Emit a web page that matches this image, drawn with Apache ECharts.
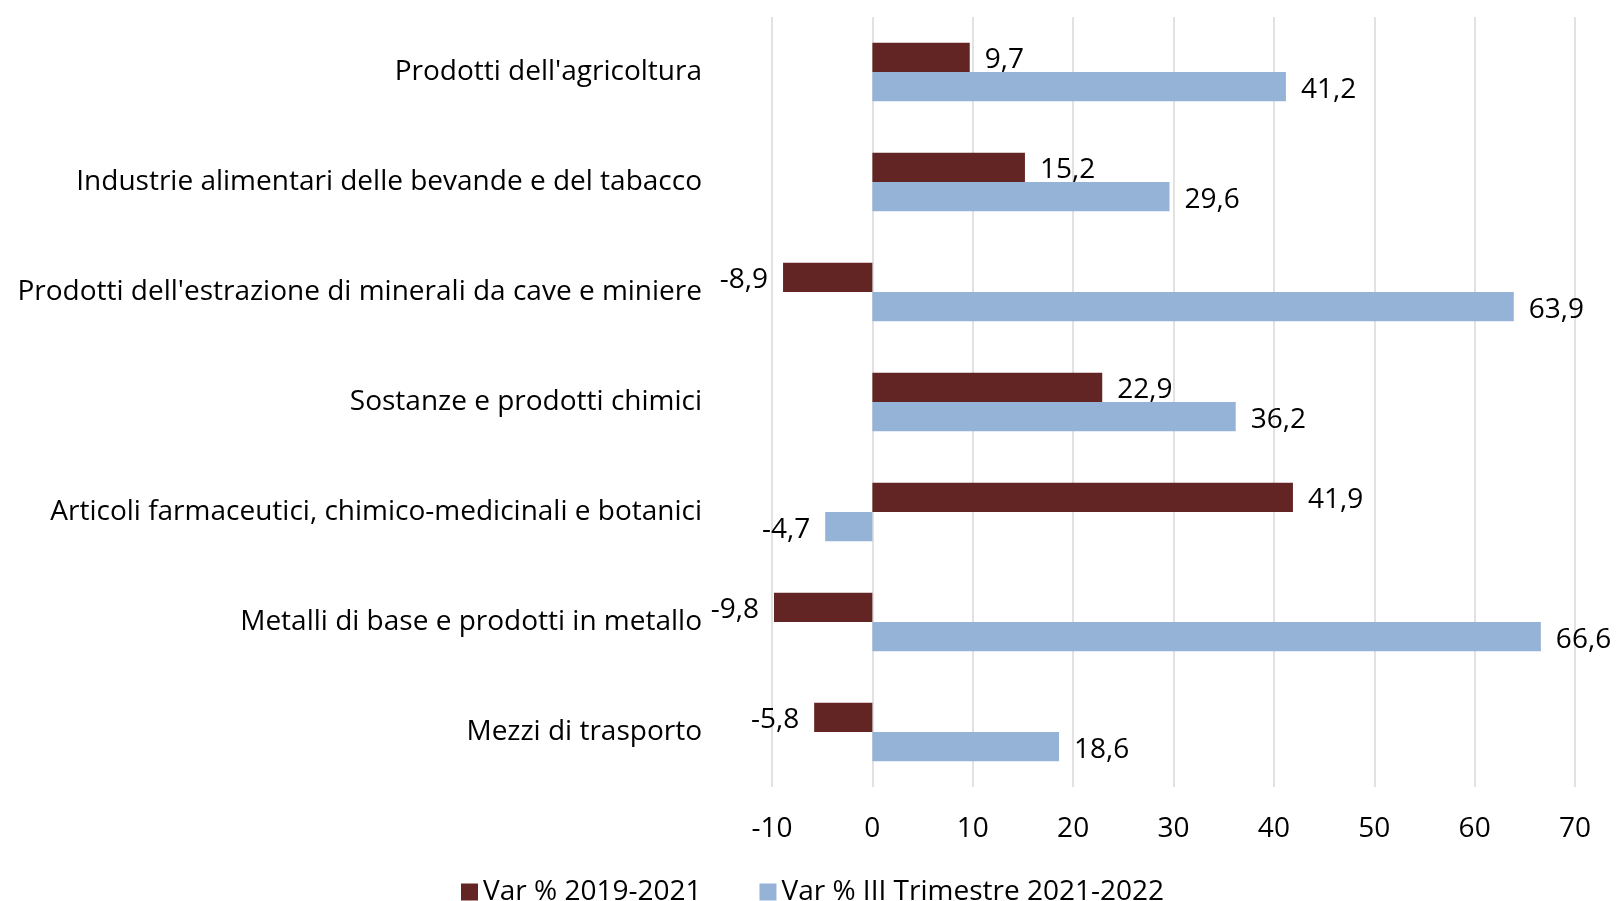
<!DOCTYPE html>
<html>
<head>
<meta charset="utf-8">
<script src="https://cdn.jsdelivr.net/npm/echarts@6/dist/echarts.min.js"></script>
<style>html,body{margin:0;padding:0;background:#fff}#c{width:1616px;height:901px}</style>
</head>
<body>
<div id="c"></div>
<script>
var categories = [
  "Prodotti dell'agricoltura",
  "Industrie alimentari delle bevande e del tabacco",
  "Prodotti dell'estrazione di minerali da cave e miniere",
  "Sostanze e prodotti chimici",
  "Articoli farmaceutici, chimico-medicinali e botanici",
  "Metalli di base e prodotti in metallo",
  "Mezzi di trasporto"
];
var seriesNames = ["Var % 2019-2021", "Var % III Trimestre 2021-2022"];
var var2019_2021 = [9.7, 15.2, -8.9, 22.9, 41.9, -9.8, -5.8];
var var3T2021_2022 = [41.2, 29.6, 63.9, 36.2, -4.7, 66.6, 18.6];
var xTicks = [-10, 0, 10, 20, 30, 40, 50, 60, 70];

var FONT = "'Open Sans', sans-serif";
var FS = 28;
function fmt(v){ return v.toFixed(1).replace('.', ','); }
function toData(arr){
  return arr.map(function(v){
    return {value: v, label: {position: v < 0 ? 'left' : 'right'}};
  });
}
var labelCfg = {
  show: true, distance: 15, offset: [0, 3], color: '#000', fontFamily: FONT, fontSize: FS,
  formatter: function(p){ return fmt(p.value); }
};
var chart = echarts.init(document.getElementById('c'), null, {renderer: 'canvas'});
chart.setOption({
  animation: false,
  backgroundColor: '#fff',
  grid: {left: 772, right: 41, top: 17, bottom: 114, containLabel: false},
  legend: {
    data: seriesNames, left: 456, top: 873, itemWidth: 17, itemHeight: 17, itemGap: 58,
    icon: 'rect',
    textStyle: {fontFamily: FONT, fontSize: FS, color: '#000'}
  },
  xAxis: {
    type: 'value', min: xTicks[0], max: xTicks[xTicks.length-1], interval: 10,
    axisLine: {show: false}, axisTick: {show: false},
    splitLine: {show: true, lineStyle: {color: '#d9d9d9', width: 1.5}},
    axisLabel: {fontFamily: FONT, fontSize: FS, color: '#000', margin: 28}
  },
  yAxis: {
    type: 'category', data: categories, inverse: true,
    axisLine: {show: false}, axisTick: {show: false},
    axisLabel: {fontFamily: FONT, fontSize: FS, color: '#000', margin: 70, padding: [2, 0, 0, 0]}
  },
  series: [
    {name: seriesNames[0], type: 'bar', data: toData(var2019_2021), itemStyle: {color: '#632523'},
     barGap: '0%', barCategoryGap: '47%', label: labelCfg},
    {name: seriesNames[1], type: 'bar', data: toData(var3T2021_2022), itemStyle: {color: '#95b3d7'},
     barGap: '0%', barCategoryGap: '47%', label: labelCfg}
  ]
});
</script>
</body>
</html>
